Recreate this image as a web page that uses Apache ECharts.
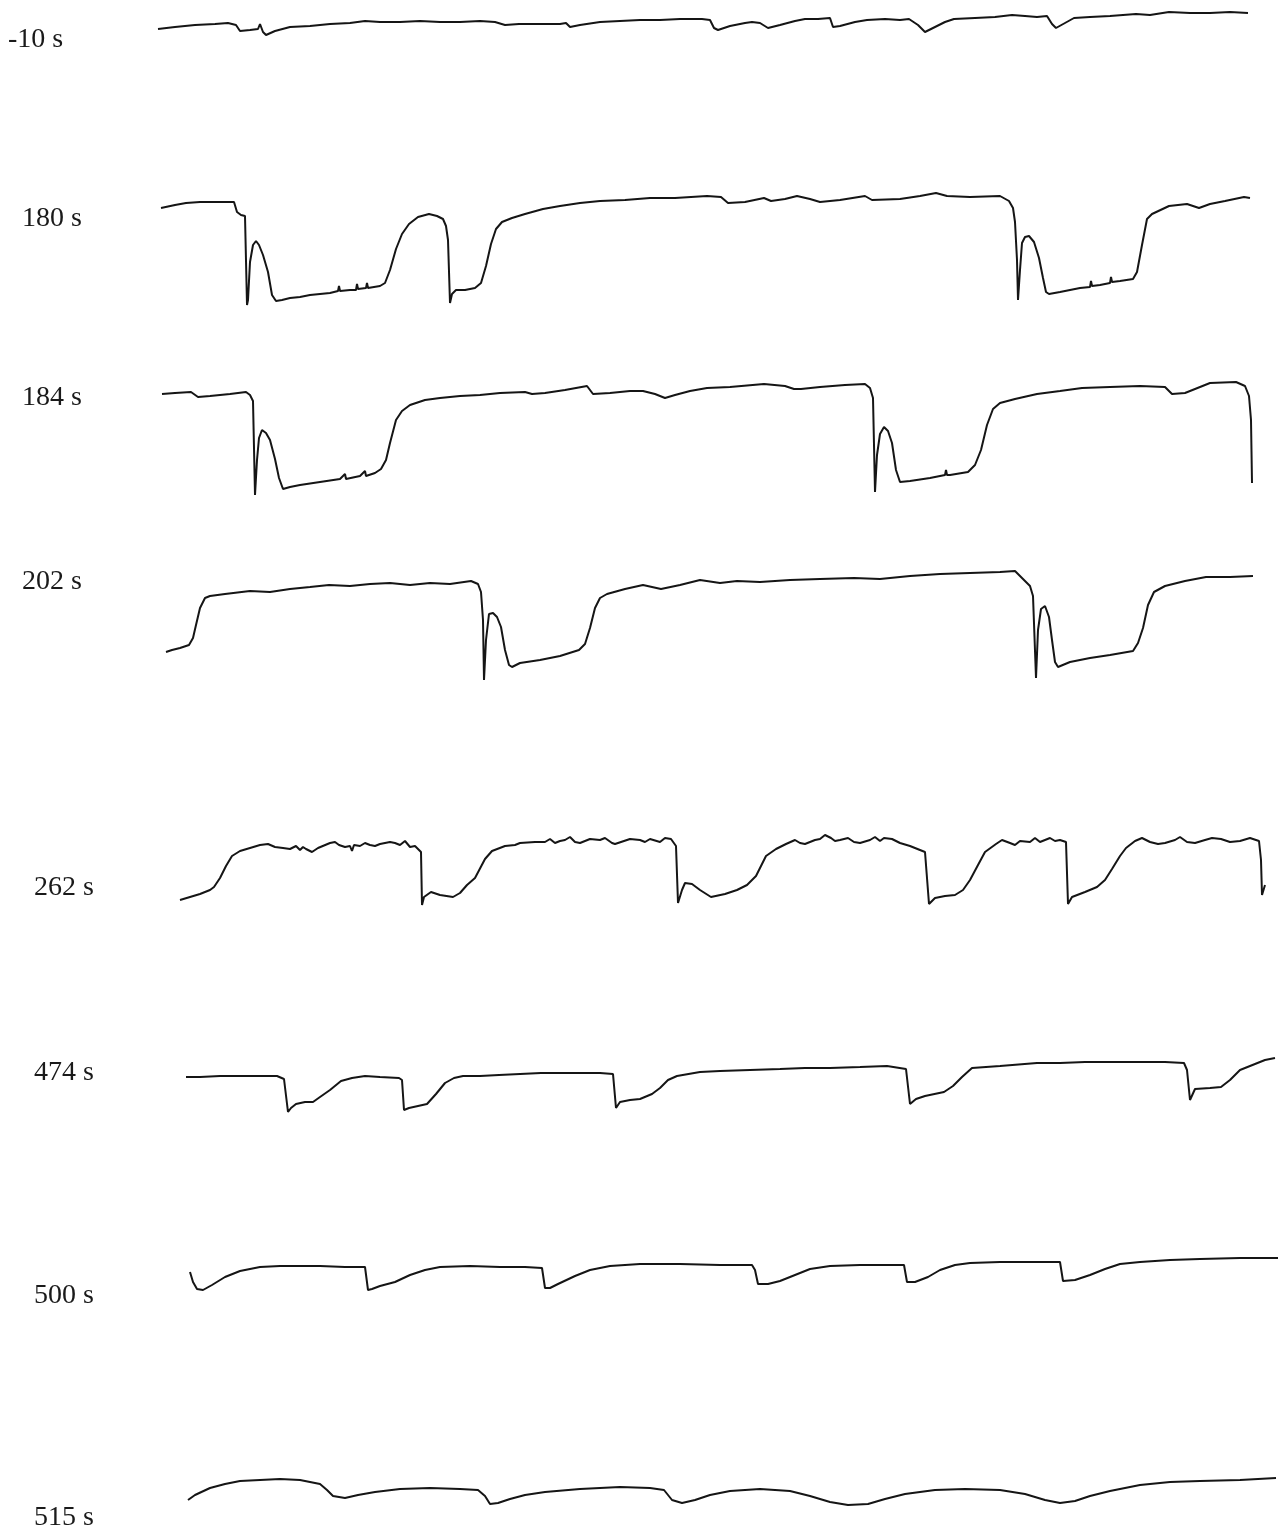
<!DOCTYPE html>
<html><head><meta charset="utf-8">
<script src="https://cdn.jsdelivr.net/npm/echarts@6/dist/echarts.min.js"></script>
<style>html,body{margin:0;padding:0;background:#fff}#c{width:1288px;height:1539px}</style>
</head><body><div id="c"></div>
<script>
// Each trace: [position along record, downward deflection within its band]
const labels = ["-10 s","180 s","184 s","202 s","262 s","474 s","500 s","515 s"];

const traceM10 = [[158,29],[175,27],[195,25],[215,24],[228,23],[236,25],[240,31],[250,30],[258,29],[260,24],[263,32],[266,35],[275,31],[290,27],[310,26],[330,24],[350,23],[365,21],[380,22],[400,22],[420,21],[440,22],[460,22],[480,21],[495,22],[505,25],[519,24],[540,24],[560,24],[566,23],[570,27],[580,25],[600,22],[620,21],[640,20],[660,20],[680,19],[702,19],[710,20],[714,28],[718,30],[730,26],[745,23],[752,22],[760,23],[768,28],[780,25],[795,21],[805,19],[818,19],[830,18],[833,27],[840,26],[855,22],[867,20],[885,19],[900,20],[909,19],[918,25],[925,32],[935,27],[945,22],[954,19],[975,18],[995,17],[1012,15],[1025,16],[1037,17],[1047,16],[1052,24],[1056,28],[1065,23],[1074,18],[1090,17],[1110,16],[1136,14],[1150,15],[1169,12],[1190,13],[1210,13],[1230,12],[1248,13]];

const trace180 = [[161,28],[175,25],[186,23],[200,22],[215,22],[234,22],[237,32],[241,35],[245,36],[247,125],[248,120],[250,82],[253,65],[256,61],[259,65],[263,75],[268,92],[272,115],[276,121],[282,120],[290,118],[300,117],[310,115],[320,114],[330,113],[338,111],[339,106],[340,111],[350,110],[356,110],[357,104],[358,109],[360,109],[366,108],[367,103],[368,108],[370,108],[380,106],[385,103],[390,90],[396,69],[402,54],[409,44],[418,37],[429,34],[437,36],[443,39],[446,46],[448,60],[450,123],[452,114],[456,110],[465,110],[475,108],[481,103],[486,86],[491,64],[496,49],[502,42],[512,38],[525,34],[543,29],[560,26],[580,23],[600,21],[625,20],[650,18],[675,18],[707,16],[721,17],[728,23],[745,22],[764,18],[771,21],[785,19],[797,16],[810,19],[820,22],[840,20],[865,16],[872,20],[900,19],[920,16],[936,13],[947,16],[970,17],[1000,16],[1009,21],[1013,28],[1015,42],[1017,80],[1018,120],[1020,90],[1022,63],[1025,57],[1029,56],[1034,62],[1039,78],[1043,98],[1046,112],[1049,114],[1060,112],[1080,108],[1090,107],[1091,101],[1092,106],[1100,105],[1110,103],[1111,97],[1112,102],[1120,101],[1133,99],[1137,92],[1142,65],[1147,39],[1152,34],[1169,26],[1187,24],[1199,28],[1210,24],[1225,21],[1244,17],[1250,18]];

const trace184 = [[162,24],[175,23],[191,22],[198,27],[210,26],[230,24],[246,22],[250,25],[253,31],[255,125],[257,90],[259,68],[262,60],[266,63],[270,70],[275,89],[279,108],[283,119],[290,117],[300,115],[320,112],[340,109],[345,104],[346,109],[360,106],[365,101],[366,106],[375,103],[381,99],[386,90],[390,73],[396,50],[402,41],[410,35],[425,30],[440,28],[460,26],[480,25],[500,23],[525,22],[532,24],[545,23],[565,20],[587,16],[593,24],[610,23],[630,21],[643,21],[655,24],[665,28],[675,25],[690,21],[707,18],[730,17],[764,14],[785,16],[794,19],[801,19],[820,17],[845,15],[865,14],[870,18],[873,28],[875,122],[877,85],[880,64],[884,57],[888,61],[892,73],[896,100],[900,112],[910,111],[930,108],[945,105],[946,100],[947,105],[950,105],[968,102],[975,95],[981,80],[987,55],[993,39],[1000,33],[1015,29],[1037,24],[1060,21],[1082,18],[1110,17],[1140,16],[1165,17],[1172,24],[1185,23],[1210,13],[1236,12],[1245,16],[1249,26],[1251,50],[1252,113]];

const trace202 = [[166,92],[172,90],[180,88],[189,85],[193,78],[196,65],[200,48],[205,38],[210,36],[225,34],[250,31],[270,32],[290,29],[310,27],[329,25],[350,26],[370,24],[390,23],[410,25],[430,23],[450,24],[471,21],[478,24],[481,32],[483,60],[484,120],[486,80],[489,54],[493,53],[497,57],[501,67],[505,90],[509,105],[512,107],[520,103],[540,100],[560,96],[579,90],[585,84],[590,68],[595,48],[600,38],[607,34],[625,29],[643,25],[661,29],[680,25],[700,20],[720,23],[737,21],[760,22],[790,20],[820,19],[854,18],[880,19],[910,16],[940,14],[970,13],[1000,12],[1015,11],[1022,18],[1030,26],[1033,36],[1036,118],[1038,70],[1041,49],[1045,46],[1049,57],[1052,80],[1055,102],[1058,107],[1070,102],[1090,98],[1110,95],[1133,91],[1138,83],[1143,68],[1148,45],[1154,32],[1165,26],[1185,21],[1206,17],[1230,17],[1253,16]];

const trace262 = [[180,80],[190,77],[200,74],[210,70],[214,67],[220,58],[226,46],[232,36],[240,31],[250,28],[260,25],[268,24],[275,27],[283,28],[290,29],[296,26],[300,30],[303,27],[306,29],[312,32],[318,28],[330,23],[335,22],[339,25],[345,27],[350,26],[352,31],[354,25],[360,26],[365,23],[370,25],[375,26],[380,24],[390,22],[395,23],[400,25],[405,21],[410,27],[415,26],[421,32],[422,85],[424,77],[431,72],[440,75],[453,77],[460,73],[467,65],[475,58],[485,39],[492,31],[505,26],[515,25],[520,23],[535,22],[545,22],[550,19],[555,23],[560,21],[565,20],[570,17],[575,22],[580,23],[590,19],[600,20],[605,18],[612,23],[615,24],[624,21],[630,19],[640,20],[645,22],[650,19],[660,22],[665,18],[671,19],[676,26],[678,83],[682,70],[685,63],[692,64],[700,70],[711,77],[725,74],[737,70],[747,65],[756,56],[766,36],[776,29],[786,24],[795,20],[800,23],[805,24],[815,20],[820,19],[825,15],[831,18],[835,21],[840,20],[848,18],[854,22],[860,23],[870,20],[875,17],[880,21],[884,18],[892,19],[900,23],[910,26],[925,32],[929,84],[935,78],[945,76],[955,75],[963,70],[970,60],[978,45],[985,32],[996,24],[1002,20],[1010,23],[1015,25],[1020,21],[1030,22],[1035,18],[1040,22],[1045,20],[1050,18],[1055,21],[1060,20],[1066,22],[1068,84],[1072,77],[1085,72],[1097,67],[1105,60],[1112,49],[1120,36],[1126,28],[1135,21],[1142,18],[1150,22],[1158,24],[1165,23],[1175,20],[1180,17],[1187,22],[1195,23],[1205,20],[1212,18],[1221,19],[1230,22],[1240,21],[1250,18],[1259,21],[1261,40],[1262,75],[1265,65]];

const trace474 = [[186,37],[200,37],[220,36],[240,36],[260,36],[277,36],[284,39],[288,72],[291,68],[296,64],[305,62],[313,62],[320,57],[330,50],[341,41],[352,38],[365,36],[380,37],[399,38],[402,40],[404,70],[409,68],[418,66],[427,64],[436,54],[445,43],[454,38],[463,36],[480,36],[499,35],[520,34],[541,33],[560,33],[580,33],[600,33],[613,34],[616,68],[620,62],[630,60],[640,59],[652,54],[660,48],[668,40],[677,36],[700,32],[720,31],[750,30],[780,29],[805,28],[830,28],[860,27],[887,26],[906,29],[910,64],[916,59],[925,56],[944,52],[953,46],[962,37],[972,28],[1000,26],[1037,23],[1060,23],[1085,22],[1112,22],[1140,22],[1165,22],[1184,23],[1187,30],[1190,60],[1195,49],[1210,48],[1221,47],[1230,40],[1240,30],[1255,24],[1265,20],[1275,18]];

const trace500 = [[190,32],[193,42],[197,49],[203,50],[212,45],[225,37],[240,31],[260,27],[280,26],[300,26],[320,26],[345,27],[365,27],[368,50],[372,49],[380,46],[395,42],[410,35],[425,30],[440,27],[470,26],[500,27],[525,27],[542,28],[545,48],[550,48],[558,44],[575,36],[590,30],[610,26],[640,24],[680,24],[720,25],[752,25],[755,30],[758,44],[768,44],[780,41],[795,35],[810,29],[830,26],[860,25],[890,25],[904,25],[907,42],[915,42],[928,37],[940,30],[955,25],[970,23],[1000,22],[1030,22],[1060,22],[1063,41],[1075,40],[1090,35],[1105,29],[1120,24],[1140,22],[1170,20],[1200,19],[1240,18],[1278,18]];

const trace515 = [[188,40],[195,35],[210,28],[225,24],[240,21],[260,20],[280,19],[300,20],[320,24],[327,30],[333,36],[345,38],[358,35],[375,32],[400,29],[430,28],[460,29],[478,30],[485,36],[490,44],[498,43],[510,39],[525,35],[545,32],[580,29],[620,27],[650,28],[664,30],[672,40],[682,43],[695,40],[710,35],[730,31],[760,29],[790,31],[810,36],[830,42],[848,45],[868,44],[885,39],[905,34],[935,30],[965,29],[1000,30],[1025,34],[1045,40],[1060,43],[1075,41],[1090,36],[1110,31],[1140,25],[1170,22],[1200,21],[1240,20],[1276,18]];

const traces = [traceM10, trace180, trace184, trace202, trace262, trace474, trace500, trace515];
const bandTops = [0, 180, 370, 560, 820, 1040, 1240, 1460];
const bandHeights = [150, 150, 150, 150, 150, 150, 150, 79];
const labelPos = [[8,38],[22,217],[22,396],[22,580],[34,886],[34,1071],[34,1294],[34,1516]];

const chart = echarts.init(document.getElementById('c'), null, {renderer:'canvas'});
const grids = [], xAxes = [], yAxes = [], series = [], graphics = [];
traces.forEach((d, i) => {
  grids.push({left:150, width:1130, top:bandTops[i], height:bandHeights[i]});
  xAxes.push({type:'value', gridIndex:i, min:150, max:1280, show:false});
  yAxes.push({type:'value', gridIndex:i, min:0, max:bandHeights[i], inverse:true, show:false});
  series.push({type:'line', xAxisIndex:i, yAxisIndex:i, data:d, showSymbol:false, silent:true, clip:false,
    lineStyle:{color:'#151515', width:2}});
  graphics.push({type:'text', left:labelPos[i][0], top:labelPos[i][1]-12,
    style:{text:labels[i], font:'28px "Liberation Serif", serif', fill:'#1a1a1a'}});
});
chart.setOption({animation:false, backgroundColor:'#fff', grid:grids, xAxis:xAxes, yAxis:yAxes, series:series, graphic:graphics});
</script></body></html>
